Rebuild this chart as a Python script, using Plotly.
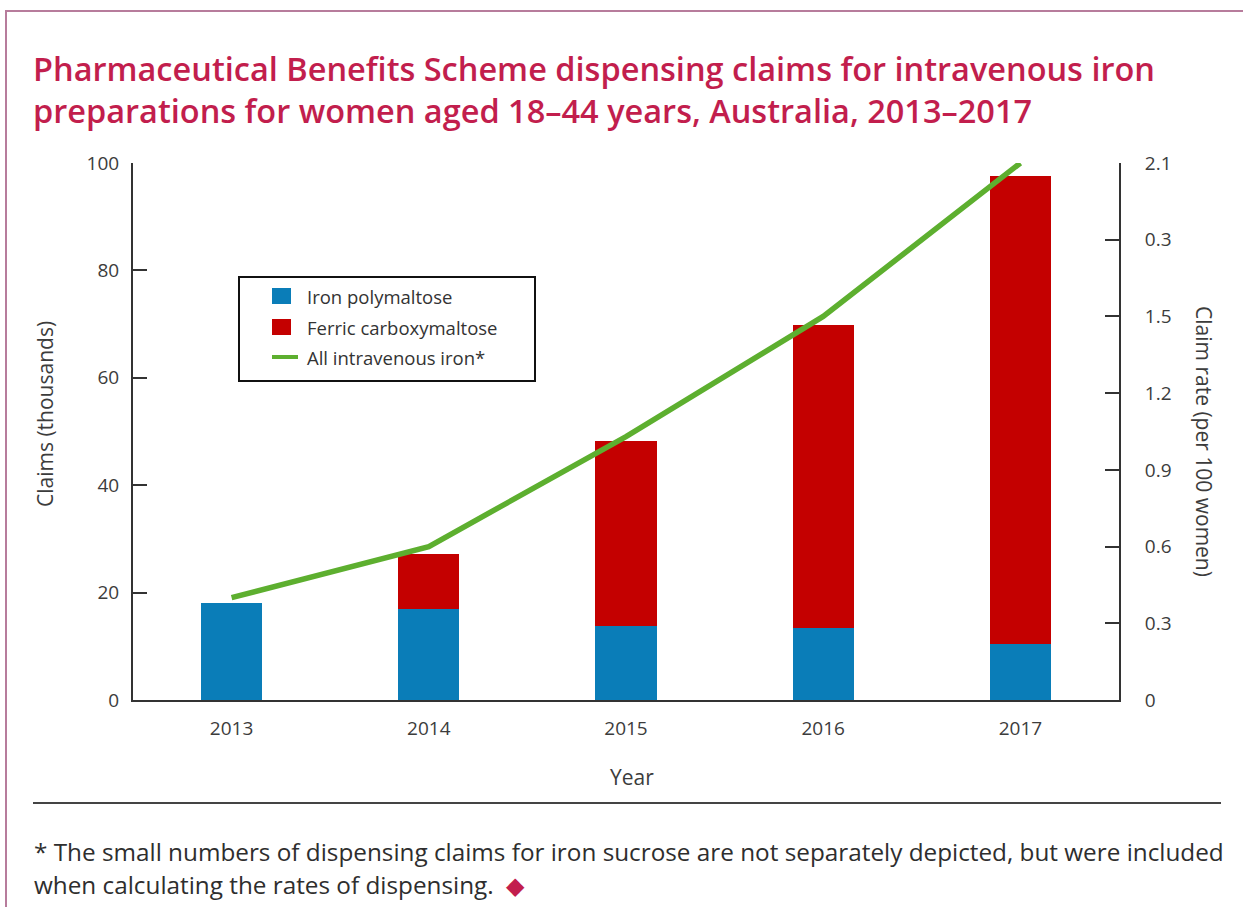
import plotly.graph_objects as go

# Dispensing claims (thousands) and claim rate (per 100 women), by year
years = ["2013", "2014", "2015", "2016", "2017"]
iron_polymaltose = [18.1, 16.9, 13.8, 13.4, 10.4]
ferric_carboxymaltose = [0.0, 10.3, 34.4, 56.4, 87.2]
claim_rate = [0.40, 0.60, 1.03, 1.50, 2.10]

left_ticks = [0, 20, 40, 60, 80, 100]
right_tickvals = [0, 0.3, 0.6, 0.9, 1.2, 1.5, 1.8, 2.1]
right_ticktext = ["0", "0.3", "0.6", "0.9", "1.2", "1.5", "0.3", "2.1"]

series_names = ["Iron polymaltose", "Ferric carboxymaltose", "All intravenous iron*"]

W, H = 1243, 907
L, R, T, B = 133, 1119, 163, 700

def px(x):
    return (x - L) / (R - L)

def py(y):
    return (B - y) / (B - T)

BLUE = "#0A7DB8"
RED = "#C40000"
GREEN = "#5DAF2F"
CRIMSON = "#C21E4D"
AXIS = "#333333"
TXT = "#3C3C3C"
FONT = "Open Sans"

fig = go.Figure()
fig.add_trace(go.Bar(x=years, y=iron_polymaltose, name=series_names[0],
                     marker=dict(color=BLUE, line=dict(width=0)), width=0.31))
fig.add_trace(go.Bar(x=years, y=ferric_carboxymaltose, name=series_names[1],
                     marker=dict(color=RED, line=dict(width=0)), width=0.31))
fig.add_trace(go.Scatter(x=years, y=claim_rate, name=series_names[2],
                         mode="lines", line=dict(color=GREEN, width=5.5),
                         yaxis="y2"))

fig.update_layout(
    width=W, height=H,
    margin=dict(l=L, r=W - R, t=T, b=H - B),
    paper_bgcolor="white", plot_bgcolor="white",
    barmode="stack",
    font=dict(family=FONT, size=19, color=TXT),
    showlegend=False,
    xaxis=dict(range=[-0.5, 4.5], showline=True, linecolor=AXIS, linewidth=2,
               ticks="", showgrid=False, zeroline=False,
               tickfont=dict(size=19, color=TXT), ticklabelstandoff=10),
    yaxis=dict(range=[0, 100], tickvals=left_ticks, showline=True,
               linecolor=AXIS, linewidth=2, ticks="inside", ticklen=14,
               tickwidth=2, tickcolor=AXIS, showgrid=False, zeroline=False,
               tickfont=dict(size=19, color=TXT), ticklabelstandoff=8),
    yaxis2=dict(range=[0, 2.1], tickvals=right_tickvals, ticktext=right_ticktext,
                overlaying="y", side="right", showline=True, linecolor=AXIS,
                linewidth=2, ticks="inside", ticklen=14, tickwidth=2,
                tickcolor=AXIS, showgrid=False, zeroline=False,
                tickfont=dict(size=19, color=TXT), ticklabelstandoff=20),
)

def note(text, x, y, size, color=TXT, xanchor="center", angle=0, weight=None):
    f = dict(family=FONT, size=size, color=color)
    if weight:
        f["weight"] = weight
    return dict(text=text, x=px(x), y=py(y), xref="paper", yref="paper",
                xanchor=xanchor, yanchor="middle", align="left", showarrow=False,
                textangle=angle, font=f)

annotations = [
    note("Claims (thousands)", 45, 414, 21, angle=-90),
    note("Claim rate (per 100 women)", 1204, 441, 21, angle=90),
    note("Year", 632, 777, 21),
    note("Pharmaceutical Benefits Scheme dispensing claims for intravenous iron<br>"
         "preparations for women aged 18–44 years, Australia, 2013–2017",
         31, 90, 32.5, color=CRIMSON, xanchor="left", weight=600),
    note("* The small numbers of dispensing claims for iron sucrose are not "
         "separately depicted, but were included",
         32, 851, 24.3, color="#2E2E2E", xanchor="left"),
    note("when calculating the rates of dispensing.  "
         f"<span style='color:{CRIMSON}'>◆</span>",
         32, 884, 24.3, color="#2E2E2E", xanchor="left"),
]

shapes = [
    # separator above the footnote
    dict(type="line", xref="paper", yref="paper", x0=px(33), x1=px(1221),
         y0=py(803), y1=py(803), line=dict(color="#444444", width=2)),
    # outer frame
    dict(type="rect", xref="paper", yref="paper", x0=px(6), x1=px(1260),
         y0=py(11), y1=py(930), line=dict(color="#B77C9C", width=2),
         fillcolor="rgba(0,0,0,0)"),
    # legend frame
    dict(type="rect", xref="paper", yref="paper", x0=px(239), x1=px(535),
         y0=py(277), y1=py(381), line=dict(color="#111111", width=2),
         fillcolor="white", layer="above"),
]

# legend keys: two swatches and a line sample
row_y = [296, 327, 357]
key_colors = [BLUE, RED]
for i, c in enumerate(key_colors):
    shapes.append(dict(type="rect", xref="paper", yref="paper",
                       x0=px(272), x1=px(291), y0=py(row_y[i] - 8), y1=py(row_y[i] + 8),
                       line=dict(width=0), fillcolor=c, layer="above"))
shapes.append(dict(type="line", xref="paper", yref="paper",
                   x0=px(272), x1=px(298), y0=py(row_y[2]), y1=py(row_y[2]),
                   line=dict(color=GREEN, width=4), layer="above"))
for i, name in enumerate(series_names):
    annotations.append(note(name, 305, row_y[i], 18.5, color="#333333",
                            xanchor="left"))

fig.update_layout(annotations=annotations, shapes=shapes)

fig.write_html("out.html")
